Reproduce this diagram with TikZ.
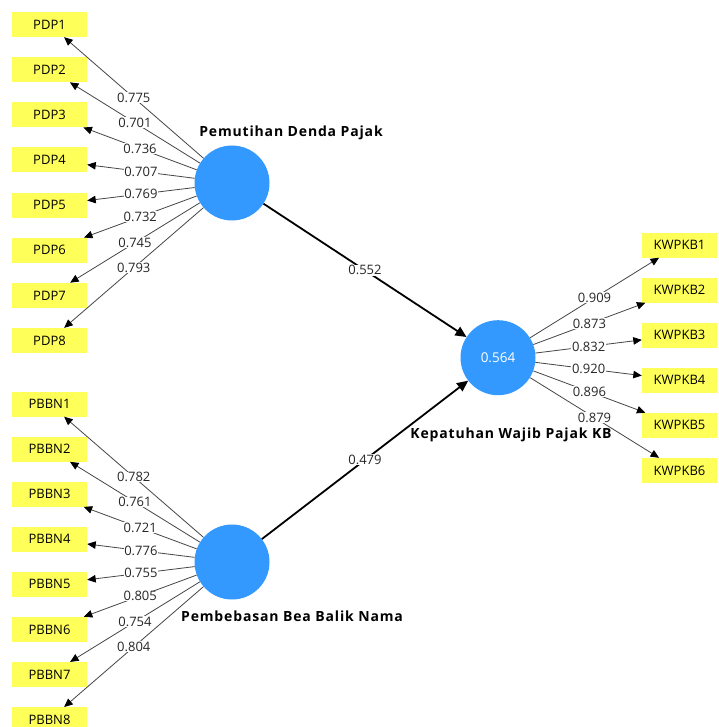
\documentclass[tikz,border=0pt]{standalone}
\usepackage{fontspec}
\setmainfont{Open Sans}
\usetikzlibrary{arrows.meta}
\definecolor{ind}{RGB}{255,255,90}
\definecolor{lv}{RGB}{51,153,255}
\definecolor{ln}{RGB}{70,70,70}
\tikzset{
  indbox/.style={rectangle,fill=ind,minimum width=75pt,minimum height=25pt,inner sep=0pt,font=\fontsize{13}{14}\selectfont},
  lvnode/.style={circle,fill=lv,minimum size=75pt,inner sep=0pt,text=white,font=\fontsize{13.5}{15}\selectfont},
  lvname/.style={font=\fontsize{14}{16}\selectfont\bfseries\addfontfeature{LetterSpace=6},inner sep=0pt},
  load/.style={draw=ln,line width=0.8pt,-{Triangle[length=8.5pt,width=7.5pt,color=black]}},
  pathc/.style={draw=black,line width=1.8pt,-{Triangle[length=11pt,width=10pt]}},
  lbl/.style={midway,fill=white,inner sep=0.6pt,font=\fontsize{13}{14}\selectfont,text=black!85}
}
\begin{document}
\begin{tikzpicture}[x=1pt,y=-1pt]
\useasboundingbox (0,0) rectangle (718,727);
\clip (0,0) rectangle (718,727);
\fill[white] (0,0) rectangle (718,727);
% latent variables
\node[lvnode] (pdp) at (232,183) {};
\node[lvnode] (pbbn) at (232,562) {};
\node[lvnode] (kw) at (498,357.7) {0.564};
\node[lvname] (tpdp) at (291,133) {Pemutihan Denda Pajak};
\node[lvname] (tpbbn) at (292,616) {Pembebasan Bea Balik Nama};
\node[lvname] (tkw) at (511,435) {Kepatuhan Wajib Pajak KB};
% indicators
\foreach \i in {1,...,8}{
  \node[indbox] (pdp\i) at (49.5,{24.5+45.15*(\i-1)}) {PDP\i};
  \node[indbox] (pbbn\i) at (49.5,{404+45.1*(\i-1)}) {PBBN\i};
}
\foreach \i in {1,...,6}{
  \node[indbox] (kw\i) at (679.5,{245+45.1*(\i-1)}) {KWPKB\i};
}
% loadings
\foreach \i/\v in {1/0.775,2/0.701,3/0.736,4/0.707,5/0.769,6/0.732,7/0.745,8/0.793}{
  \draw[load] (pdp) -- node[lbl]{\v} (pdp\i);
}
\foreach \i/\v in {1/0.782,2/0.761,3/0.721,4/0.776,5/0.755,6/0.805,7/0.754,8/0.804}{
  \draw[load] (pbbn) -- node[lbl]{\v} (pbbn\i);
}
\foreach \i/\v in {1/0.909,2/0.873,3/0.832,4/0.920,5/0.896,6/0.879}{
  \draw[load] (kw) -- node[lbl]{\v} (kw\i);
}
% paths
\draw[pathc] (pdp) -- node[lbl]{0.552} (kw);
\draw[pathc] (pbbn) -- node[lbl]{0.479} (kw);
\end{tikzpicture}
\end{document}
